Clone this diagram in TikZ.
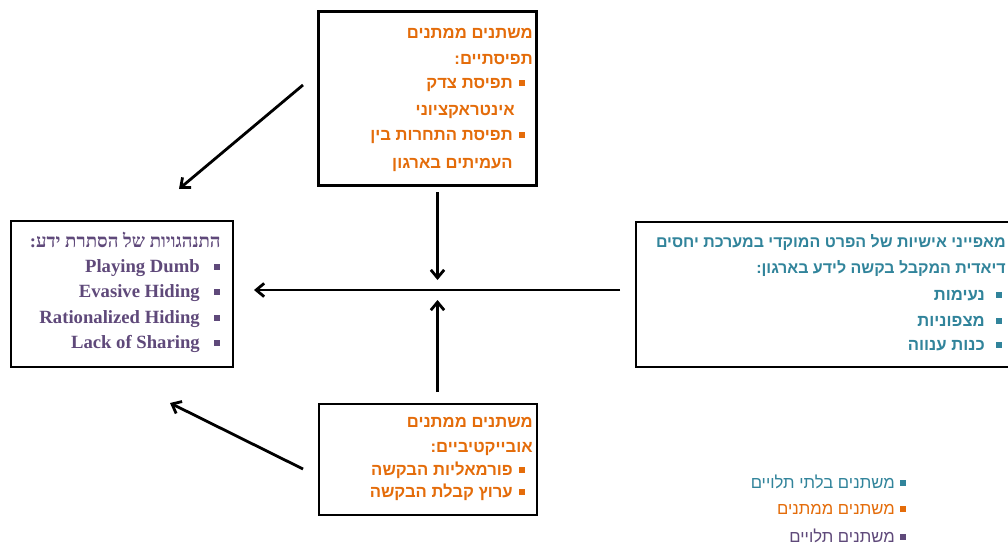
\documentclass[tikz,border=0pt]{standalone}
\usepackage{fontspec}
\setmainfont{Liberation Serif}
\newfontfamily\hebsans[Script=Hebrew]{Liberation Sans}
\newfontfamily\hebserif[Script=Hebrew]{Liberation Serif}
\TeXXeTstate=1
\usetikzlibrary{arrows.meta}
\definecolor{orng}{HTML}{E46C0A}
\definecolor{tealc}{HTML}{31849B}
\definecolor{purp}{HTML}{5F497A}
\tikzset{
  box/.style={draw=black, line width=2.2pt, inner sep=0pt, fill=white},
  hs/.style={font=\hebsans\bfseries\fontsize{12.5}{14}\selectfont, inner sep=0pt, anchor=base east},
  hsb/.style={font=\hebsans\bfseries\fontsize{12}{14}\selectfont, inner sep=0pt, anchor=base east},
  hsr/.style={font=\hebsans\fontsize{12.5}{14}\selectfont, inner sep=0pt, anchor=base east},
  hser/.style={font=\hebserif\bfseries\fontsize{14}{16}\selectfont, inner sep=0pt, anchor=base east},
  en/.style={font=\bfseries\fontsize{14}{16}\selectfont, inner sep=0pt, anchor=base east},
  blt/.style={fill, minimum size=3.8pt, inner sep=0pt, outer sep=0pt},
  arr/.style={line width=2.1pt, -{Straight Barb[length=6pt,width=10pt]}}
}
\begin{document}
\begin{tikzpicture}[x=0.75pt,y=-0.75pt]
\clip (0,0) rectangle (1008,546);
\fill[white] (0,0) rectangle (1008,546);

% boxes
\node[box, minimum width=164pt, minimum height=130pt] (topbox) at (427.5,98.5) {};
\node[box, minimum width=166.5pt, minimum height=109.5pt] (leftbox) at (122,294) {};
\node[box, minimum width=295.5pt, minimum height=108.75pt] (rightbox) at (833,294.5) {};
\node[box, minimum width=163.5pt, minimum height=83.25pt] (botbox) at (428,459.5) {};

% top box text
\begin{scope}[orng]
\node[hs] (t1) at (533,38) {\beginR משתנים ממתנים\endR};
\node[hs] (t2) at (533,64) {\beginR תפיסתיים:\endR};
\node[blt] (tb1) at (522,83) {};
\node[hs] (t3) at (513,88) {\beginR תפיסת צדק\endR};
\node[hs] (t4) at (515,115) {\beginR אינטראקציוני\endR};
\node[blt] (tb2) at (522,135) {};
\node[hs] (t5) at (513,140) {\beginR תפיסת התחרות בין\endR};
\node[hs] (t6) at (513,168) {\beginR העמיתים בארגון\endR};
\end{scope}

% left box text
\begin{scope}[purp]
\node[hser] (l1) at (221,247) {\beginR התנהגויות של הסתרת ידע:\endR};
\node[blt] (lb1) at (217,267) {};
\node[en] (l2) at (200,272) {Playing Dumb};
\node[blt] (lb2) at (217,292) {};
\node[en] (l3) at (200,297) {Evasive Hiding};
\node[blt] (lb3) at (217,318) {};
\node[en] (l4) at (200,323) {Rationalized Hiding};
\node[blt] (lb4) at (217,343) {};
\node[en] (l5) at (200,348) {Lack of Sharing};
\end{scope}

% right box text
\begin{scope}[tealc]
\node[hsb] (r1) at (1006,247) {\beginR מאפייני אישיות של הפרט המוקדי במערכת יחסים\endR};
\node[hsb] (r2) at (1006,273) {\beginR דיאדית המקבל בקשה לידע בארגון:\endR};
\node[blt] (rb1) at (999,295) {};
\node[hs] (r3) at (985,300) {\beginR נעימות\endR};
\node[blt] (rb2) at (999,321) {};
\node[hs] (r4) at (985,326) {\beginR מצפוניות\endR};
\node[blt] (rb3) at (999,345) {};
\node[hs] (r5) at (985,350) {\beginR כנות ענווה\endR};
\end{scope}

% bottom box text
\begin{scope}[orng]
\node[hs] (b1) at (533,427) {\beginR משתנים ממתנים\endR};
\node[hs] (b2) at (533,452) {\beginR אובייקטיביים:\endR};
\node[blt] (bb1) at (522,470) {};
\node[hs] (b3) at (513,475) {\beginR פורמאליות הבקשה\endR};
\node[blt] (bb2) at (522,492) {};
\node[hs] (b4) at (513,497) {\beginR ערוץ קבלת הבקשה\endR};
\end{scope}

% legend
\node[blt, tealc] (gb1) at (903,483) {};
\node[hsr, tealc] (g1) at (895,488) {\beginR משתנים בלתי תלויים\endR};
\node[blt, orng] (gb2) at (903,509) {};
\node[hsr, orng] (g2) at (895,514) {\beginR משתנים ממתנים\endR};
\node[blt, purp] (gb3) at (903,537) {};
\node[hsr, purp] (g3) at (895,542) {\beginR משתנים תלויים\endR};

% arrow endpoints
\coordinate (a1s) at (303,85);
\coordinate (a1e) at (179,189);
\coordinate (a2s) at (303,469);
\coordinate (a2e) at (170,403);
\coordinate (a3s) at (620,290);
\coordinate (a3e) at (254,290);
\coordinate (a4s) at (437.5,192);
\coordinate (a4e) at (437.5,280);
\coordinate (a5s) at (437.5,392);
\coordinate (a5e) at (437.5,300);

\draw[arr] (a1s) -- (a1e);
\draw[arr] (a2s) -- (a2e);
\draw[arr] (a3s) -- (a3e);
\draw[arr] (a4s) -- (a4e);
\draw[arr] (a5s) -- (a5e);
\end{tikzpicture}
\end{document}
